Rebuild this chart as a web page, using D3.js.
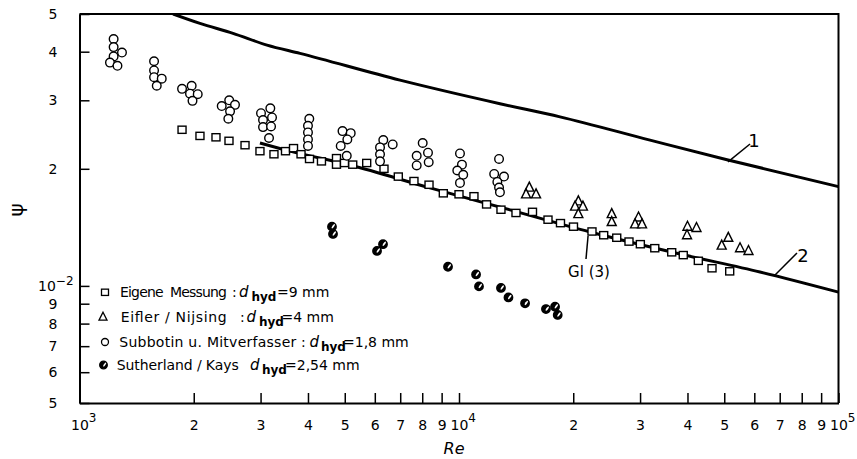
<!DOCTYPE html>
<html>
<head>
<meta charset="utf-8">
<script src="https://cdn.jsdelivr.net/npm/d3@7"></script>
<style>
body{margin:0;background:#fff}
svg{display:block;font-family:'DejaVu Sans',sans-serif}
</style>
</head>
<body>
<div id="chart"></div>
<script>

// Eigene Messung (squares)
var squareRe = [1863, 2077, 2289, 2477, 2730, 2989, 3254, 3490, 3664, 3835, 4037, 4341, 4755, 4755, 4991, 5248, 5712, 6344, 6919, 7609, 8337, 9092, 10000, 10950, 11820, 12900, 14130, 15620, 17160, 18510, 20030, 22410, 24060, 26040, 28050, 30050, 32800, 36350, 38990, 42720, 46420, 51680]
var squarePsi = [0.0252, 0.0243, 0.0241, 0.0236, 0.0230, 0.0222, 0.0218, 0.0222, 0.0226, 0.0218, 0.0212, 0.0209, 0.0213, 0.0205, 0.0207, 0.0205, 0.0207, 0.0200, 0.0191, 0.0186, 0.0182, 0.0173, 0.0172, 0.0170, 0.0162, 0.0157, 0.0154, 0.0155, 0.0148, 0.0145, 0.0142, 0.0138, 0.0135, 0.0133, 0.0130, 0.0128, 0.0125, 0.0122, 0.0120, 0.0116, 0.0111, 0.0109]

// Eifler / Nijsing (triangles)
var triangleRe = [15320, 15020, 15960, 20630, 20220, 21210, 20630, 25260, 25260, 29720, 29100, 30360, 40000, 42250, 39890, 51240, 49230, 55020, 57920]
var trianglePsi = [0.0179, 0.0172, 0.0172, 0.0165, 0.0160, 0.0160, 0.0153, 0.0153, 0.0146, 0.0150, 0.0144, 0.0144, 0.0142, 0.0141, 0.0135, 0.0133, 0.0127, 0.0125, 0.0123]

// Subbotin u. Mitverfasser (open circles)
var circleRe = [1230, 1230, 1294, 1230, 1203, 1259, 1572, 1572, 1572, 1647, 1598, 1863, 1975, 1955, 2049, 1985, 2370, 2480, 2569, 2493, 2467, 3008, 3183, 3045, 3216, 3045, 3197, 3158, 4032, 4000, 4000, 4000, 4000, 4932, 5184, 5079, 4879, 5061, 6317, 6688, 6193, 6193, 6193, 8023, 7736, 8285, 7736, 8321, 10060, 10180, 9897, 10260, 10060, 12750, 12380, 13140, 12620, 12750, 12820]
var circlePsi = [0.0431, 0.0411, 0.0398, 0.0389, 0.0375, 0.0368, 0.0378, 0.0358, 0.0344, 0.0341, 0.0327, 0.0321, 0.0327, 0.0312, 0.0311, 0.0299, 0.0290, 0.0300, 0.0292, 0.0281, 0.0269, 0.0278, 0.0286, 0.0267, 0.0271, 0.0256, 0.0257, 0.0240, 0.0269, 0.0258, 0.0248, 0.0238, 0.0229, 0.0250, 0.0247, 0.0238, 0.0229, 0.0216, 0.0237, 0.0231, 0.0227, 0.0218, 0.0209, 0.0233, 0.0216, 0.0220, 0.0204, 0.0208, 0.0219, 0.0205, 0.0198, 0.0193, 0.0184, 0.0212, 0.0194, 0.0191, 0.0185, 0.0179, 0.0174]

// Sutherland / Kays (filled circles)
var filledRe = [4627, 4656, 6306, 6081, 9355, 11090, 11290, 12900, 13500, 14930, 16950, 17910, 18200]
var filledPsi = [0.0142, 0.0136, 0.0128, 0.0123, 0.0112, 0.0107, 0.00997, 0.00988, 0.00934, 0.00902, 0.00872, 0.00884, 0.00842]

// curve 1 and curve 2 (Gl. 3)
var line1Re = [1764, 2077, 2538, 3120, 3811, 6990, 12823, 18456, 31870, 50840, 100000]
var line1Psi = [0.05, 0.0473, 0.0446, 0.0416, 0.0396, 0.0338, 0.0294, 0.0272, 0.0237, 0.0211, 0.0180]
var line2Re = [2989, 3586, 5162, 8386, 13630, 22140, 38230, 62110, 100000]
var line2Psi = [0.0233, 0.0222, 0.02045, 0.01786, 0.01568, 0.01376, 0.01208, 0.01086, 0.00964]

var xTicks = [1e3, 2e3, 3e3, 4e3, 5e3, 6e3, 7e3, 8e3, 9e3, 1e4, 2e4, 3e4, 4e4, 5e4, 6e4, 7e4, 8e4, 9e4, 1e5]
var yTicks = [0.005, 0.006, 0.007, 0.008, 0.009, 0.01, 0.02, 0.03, 0.04, 0.05]

var legendNames = ['Eigene\u00a0\u00a0Messung', 'Eifler / Nijsing', 'Subbotin u. Mitverfasser', 'Sutherland / Kays']
var legendColon = [':', ':', ':', '']
var legendValues = ['=9 mm', '=4 mm', '=1,8 mm', '=2,54 mm']

var labelText = ['1', '2', 'Gl (3)']
var labelFromRe = [51150, 68040, 21880]
var labelFromPsi = [0.02083, 0.01067, 0.01344]
var labelToRe = [58460, 77740, 21610]
var labelToPsi = [0.02316, 0.01215, 0.01173]


var width = 857, height = 459

var x = d3.scaleLog().domain([1e3, 1e5]).range([79.5, 838.5])
var y = d3.scaleLog().domain([0.005, 0.05]).range([403, 14])

var svg = d3.select('#chart').append('svg')
  .attr('width', width).attr('height', height)

svg.append('defs').append('clipPath').attr('id', 'clip').append('rect')
  .attr('x', x.range()[0]).attr('y', y.range()[1])
  .attr('width', x.range()[1] - x.range()[0])
  .attr('height', y.range()[0] - y.range()[1])

function zip(a, b){ return a.map((d, i) => [d, b[i]]) }

function mantissa(v){
  var e = Math.floor(Math.log10(v) + 1e-9)
  return {m: Math.round(v / Math.pow(10, e)), e}
}


// axes
var xAxisSel = svg.append('g')
  .attr('transform', 'translate(0,' + y.range()[0] + ')')
  .call(d3.axisBottom(x).tickValues(xTicks).tickSizeInner(-10).tickSizeOuter(0).tickPadding(17).tickFormat(''))

var yAxisSel = svg.append('g')
  .attr('transform', 'translate(' + x.range()[0] + ',0)')
  .call(d3.axisLeft(y).tickValues(yTicks).tickSizeInner(-10).tickSizeOuter(0).tickPadding(22).tickFormat(''))

;[xAxisSel, yAxisSel].forEach(sel => {
  sel.attr('font-size', 14).attr('font-family', "'DejaVu Sans', sans-serif")
  sel.select('.domain').attr('stroke-width', 2)
  sel.selectAll('.tick line').attr('stroke-width', 1.5)
})

xAxisSel.selectAll('.tick text').each(function(d){
  var t = mantissa(d), sel = d3.select(this)
  if (t.m == 1){
    sel.attr('text-anchor', 'start').attr('x', -9)
    sel.append('tspan').text('10')
    sel.append('tspan').attr('dy', -8).attr('font-size', 12).text(t.e)
  } else {
    sel.text(t.m)
  }
})

yAxisSel.selectAll('.tick text').each(function(d){
  var t = mantissa(d), sel = d3.select(this)
  if (t.m == 1){
    sel.attr('text-anchor', 'start').attr('x', -41.5)
    sel.append('tspan').text('10')
    sel.append('tspan').attr('dy', -6).attr('font-size', 12).text('\u2212' + Math.abs(t.e))
  } else {
    sel.text(t.m)
  }
})

// top and right frame
svg.append('path')
  .attr('d', 'M' + x(1e3) + ',' + y(0.05) + 'H' + x(1e5) + 'V' + y(0.005))
  .attr('fill', 'none').attr('stroke', '#000').attr('stroke-width', 2)

svg.append('text')
  .attr('transform', 'translate(16,210) rotate(-90)')
  .attr('text-anchor', 'middle').attr('dy', '0.35em')
  .attr('font-size', 20)
  .text('\u03c8')

svg.append('text')
  .attr('x', 454).attr('y', 454)
  .attr('text-anchor', 'middle')
  .attr('font-size', 16).attr('font-style', 'italic')
  .text('Re')


// curves
var line = d3.line().x(d => x(d[0])).y(d => y(d[1])).curve(d3.curveMonotoneX)

svg.append('g').attr('clip-path', 'url(#clip)')
  .selectAll('path').data([zip(line1Re, line1Psi), zip(line2Re, line2Psi)])
  .join('path')
  .attr('d', line)
  .attr('fill', 'none').attr('stroke', '#000').attr('stroke-width', 3)

// curve labels
var labels = labelText.map((d, i) => ({
  text: d,
  from: [x(labelFromRe[i]), y(labelFromPsi[i])],
  to: [x(labelToRe[i]), y(labelToPsi[i])]
}))
var labelOffset = [[4, 3, 18], [6, 9.5, 18], [3, 18, 15]]

svg.selectAll('line.leader').data(labels).join('line')
  .attr('class', 'leader')
  .attr('x1', d => d.from[0]).attr('y1', d => d.from[1])
  .attr('x2', d => d.to[0]).attr('y2', d => d.to[1])
  .attr('stroke', '#000').attr('stroke-width', 1.5)

svg.selectAll('text.curve-label').data(labels).join('text')
  .attr('class', 'curve-label')
  .attr('x', (d, i) => d.to[0] + labelOffset[i][0])
  .attr('y', (d, i) => d.to[1] + labelOffset[i][1])
  .attr('font-size', (d, i) => labelOffset[i][2])
  .attr('text-anchor', 'middle')
  .text(d => d.text)


// markers
var markSel = svg.append('g').attr('stroke', '#000').attr('stroke-width', 1.4)

function drawSquare(sel, s){
  sel.append('rect')
    .attr('x', -s / 2).attr('y', -s * 0.45)
    .attr('width', s).attr('height', s * 0.9)
    .attr('fill', '#fff')
}
function drawTriangle(sel, s){
  sel.append('path')
    .attr('d', 'M0,' + (-s * 0.6) + 'L' + (s / 2) + ',' + (s * 0.4) + 'L' + (-s / 2) + ',' + (s * 0.4) + 'Z')
    .attr('fill', '#fff')
}
function drawCircle(sel, r){
  sel.append('circle').attr('r', r).attr('fill', '#fff')
}
function drawFilled(sel, r){
  sel.append('circle').attr('r', r).attr('fill', '#000')
  sel.append('ellipse')
    .attr('rx', r * 0.22).attr('ry', r * 0.62)
    .attr('transform', 'translate(' + (r * 0.3) + ',' + (-r * 0.1) + ') rotate(35)')
    .attr('fill', '#fff').attr('stroke', 'none')
}

markSel.selectAll('g.sq').data(zip(squareRe, squarePsi)).join('g')
  .attr('class', 'sq')
  .attr('transform', d => 'translate(' + x(d[0]) + ',' + y(d[1]) + ')')
  .call(drawSquare, 8)

markSel.selectAll('g.tri').data(zip(triangleRe, trianglePsi)).join('g')
  .attr('class', 'tri')
  .attr('transform', d => 'translate(' + x(d[0]) + ',' + y(d[1]) + ')')
  .call(drawTriangle, 9)

markSel.selectAll('g.ci').data(zip(circleRe, circlePsi)).join('g')
  .attr('class', 'ci')
  .attr('transform', d => 'translate(' + x(d[0]) + ',' + y(d[1]) + ')')
  .call(drawCircle, 4.3)

markSel.selectAll('g.fi').data(zip(filledRe, filledPsi)).join('g')
  .attr('class', 'fi')
  .attr('transform', d => 'translate(' + x(d[0]) + ',' + y(d[1]) + ')')
  .call(drawFilled, 4.2)


// legend
var legendY = [297.3, 322, 347, 370]
var legendSymX = [105, 103, 105, 103.5]
var legendTextX = [120, 120.7, 119.3, 116.7]
var legendTextW = [107, 106, 177, 122]
var legendColonX = [232, 240, 301, 0]
var legendDX = [239, 246.5, 309.5, 250]
var legendHydX = [251.5, 259, 321, 262]
var legendValX = [277, 281.5, 343, 285]
var legendDraw = [s => drawSquare(s, 7), s => drawTriangle(s, 8), s => drawCircle(s, 3.5), s => drawFilled(s, 3.8)]

var legendSel = svg.append('g').selectAll('g').data(legendNames).join('g')

legendSel.append('g')
  .attr('transform', (d, i) => 'translate(' + legendSymX[i] + ',' + (legendY[i] - 5) + ')')
  .attr('stroke', '#000').attr('stroke-width', 1.3)
  .each(function(d, i){ legendDraw[i](d3.select(this)) })

var legendText = legendSel.append('text')
  .attr('y', (d, i) => legendY[i])
  .attr('font-size', 14)

legendText.append('tspan')
  .attr('x', (d, i) => legendTextX[i])
  .attr('textLength', (d, i) => legendTextW[i])
  .attr('lengthAdjust', 'spacing')
  .text(d => d)
legendText.append('tspan').attr('x', (d, i) => legendColonX[i]).text((d, i) => legendColon[i])
legendText.append('tspan').attr('x', (d, i) => legendDX[i])
  .attr('font-style', 'italic').attr('font-size', 15).text('d')
legendText.append('tspan').attr('x', (d, i) => legendHydX[i]).attr('dy', 3.5)
  .attr('font-size', 12).attr('font-weight', 'bold').text('hyd')
legendText.append('tspan').attr('x', (d, i) => legendValX[i]).attr('dy', -3.5)
  .text((d, i) => legendValues[i])

</script>
</body>
</html>
